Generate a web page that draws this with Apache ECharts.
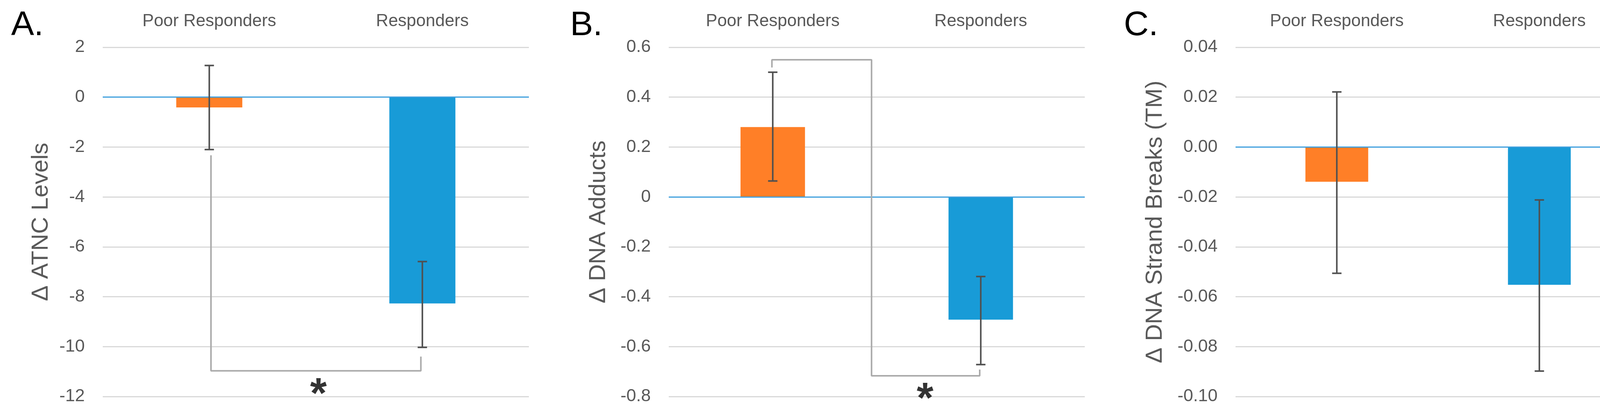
<!DOCTYPE html>
<html>
<head>
<meta charset="utf-8">
<script src="https://cdn.jsdelivr.net/npm/echarts@6/dist/echarts.min.js"></script>
<style>html,body{margin:0;padding:0;background:#fff}#c{width:4255px;height:1070px}</style>
</head>
<body>
<div id="c"></div>
<script>
// ---------- data ----------
const categories = ['Poor Responders', 'Responders'];
const panelLetters = ['A.', 'B.', 'C.'];
const yNames = ['Δ ATNC Levels', 'Δ DNA Adducts', 'Δ DNA Strand Breaks (TM)'];

// panel A: ATNC levels
const meansA = [-0.41, -8.27];
const errLowA = [-2.10, -10.03];
const errHighA = [1.27, -6.59];
const ticksA = [-12, -10, -8, -6, -4, -2, 0, 2];

// panel B: DNA adducts
const meansB = [0.28, -0.492];
const errLowB = [0.064, -0.672];
const errHighB = [0.50, -0.319];
const ticksB = [-0.8, -0.6, -0.4, -0.2, 0, 0.2, 0.4, 0.6];

// panel C: DNA strand breaks
const meansC = [-0.0139, -0.0552];
const errLowC = [-0.0506, -0.0898];
const errHighC = [0.0221, -0.0212];
const ticksC = [-0.10, -0.08, -0.06, -0.04, -0.02, 0.00, 0.02, 0.04];

// significance brackets (x in category units 0..2, y in data units)
const bracketA = [[0.508, -2.33], [0.508, -10.97], [1.493, -10.97], [1.493, -10.40]];
const starA = [[1.012, -11.53]];
const bracketB = [[0.496, 0.519], [0.496, 0.550], [0.975, 0.550], [0.975, -0.717], [1.495, -0.717], [1.495, -0.692]];
const starB = [[1.232, -0.772]];

// ---------- styling / layout ----------
const FONT = "'Liberation Sans', Arial, sans-serif";
const TXT = '#595959';
const barColors = ['#FF7F27', '#189BD7'];
const grids = [
  { left: 263, top: 121, width: 1091, height: 894 },
  { left: 1712, top: 121, width: 1065, height: 894 },
  { left: 3163, top: 121, width: 1037, height: 894 }
];
const nameGaps = [128, 150, 176];
const letterX = [70, 1501, 2921];

const panels = [
  { means: meansA, lo: errLowA, hi: errHighA, ticks: ticksA, bracket: bracketA, star: starA, fmt: v => String(v) },
  { means: meansB, lo: errLowB, hi: errHighB, ticks: ticksB, bracket: bracketB, star: starB, fmt: v => String(+v.toFixed(1)) },
  { means: meansC, lo: errLowC, hi: errHighC, ticks: ticksC, bracket: null, star: null, fmt: v => v.toFixed(2) }
];

const xAxis = [], yAxis = [], series = [];
panels.forEach((p, i) => {
  const t = p.ticks;
  const interval = +(t[1] - t[0]).toFixed(6);
  xAxis.push({
    type: 'category', gridIndex: i, position: 'top', data: categories,
    axisLine: { show: false, onZero: false }, axisTick: { show: false },
    axisLabel: { color: TXT, fontFamily: FONT, fontSize: 44, margin: 44 },
    splitLine: { show: false }
  });
  xAxis.push({ type: 'value', gridIndex: i, min: 0, max: 2, show: false });
  yAxis.push({
    type: 'value', gridIndex: i, min: t[0], max: t[t.length - 1], interval: interval,
    name: yNames[i], nameLocation: 'middle', nameGap: nameGaps[i], nameRotate: 90,
    nameTextStyle: { color: TXT, fontFamily: FONT, fontSize: 60 },
    axisLine: { show: false }, axisTick: { show: false },
    axisLabel: { color: TXT, fontFamily: FONT, fontSize: 45, margin: 46, formatter: p.fmt },
    splitLine: { show: true, lineStyle: { color: '#D9D9D9', width: 3 } }
  });
  const cx = i * 2, vx = i * 2 + 1;
  series.push({
    type: 'bar', xAxisIndex: cx, yAxisIndex: i,
    data: p.means.map((v, k) => ({ value: v, itemStyle: { color: barColors[k] } })),
    barWidth: '31%', silent: true,
    markLine: {
      silent: true, symbol: 'none', label: { show: false },
      lineStyle: { color: '#3E9FDD', width: 3, type: 'solid' },
      data: [{ yAxis: 0 }], animation: false
    },
    animation: false
  });
  series.push({
    type: 'custom', xAxisIndex: cx, yAxisIndex: i, silent: true, z: 5,
    data: categories.map((c, k) => [k, p.lo[k], p.hi[k]]),
    renderItem: function (params, api) {
      const x = api.value(0);
      const lo = api.coord([x, api.value(1)]);
      const hi = api.coord([x, api.value(2)]);
      const cap = 12;
      const st = { stroke: '#505050', lineWidth: 4 };
      return {
        type: 'group', children: [
          { type: 'line', shape: { x1: lo[0], y1: lo[1], x2: hi[0], y2: hi[1] }, style: st },
          { type: 'line', shape: { x1: lo[0] - cap, y1: lo[1], x2: lo[0] + cap, y2: lo[1] }, style: st },
          { type: 'line', shape: { x1: hi[0] - cap, y1: hi[1], x2: hi[0] + cap, y2: hi[1] }, style: st }
        ]
      };
    },
    animation: false
  });
  if (p.bracket) {
    series.push({
      type: 'line', xAxisIndex: vx, yAxisIndex: i, data: p.bracket, silent: true, z: 6,
      symbol: 'none', lineStyle: { color: '#ABABAB', width: 4 }, animation: false
    });
  }
  if (p.star) {
    series.push({
      type: 'scatter', xAxisIndex: vx, yAxisIndex: i, data: p.star, silent: true, z: 7,
      symbolSize: 1, itemStyle: { color: 'rgba(0,0,0,0)' },
      label: { show: true, position: 'inside', formatter: '*', color: '#000', fontFamily: FONT, fontWeight: 'bold', fontSize: 110, offset: [0, 28] },
      animation: false
    });
  }
});

const graphic = panelLetters.map((L, i) => ({
  type: 'text', x: letterX[i], y: 66,
  style: { text: L, fill: '#000', font: '88px ' + FONT, textAlign: 'center', textVerticalAlign: 'middle' }
}));

const chart = echarts.init(document.getElementById('c'));
chart.setOption({
  backgroundColor: '#fff',
  animation: false,
  grid: grids,
  xAxis: xAxis,
  yAxis: yAxis,
  series: series,
  graphic: graphic
});
</script>
</body>
</html>
